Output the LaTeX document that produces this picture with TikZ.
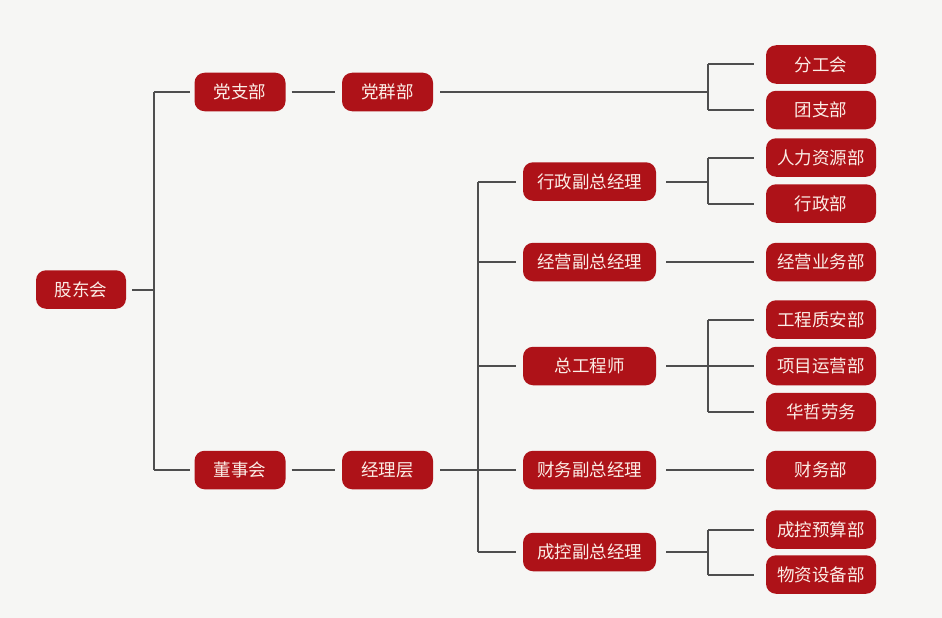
\documentclass[tikz,border=0pt]{standalone}
\usepackage{fontspec}
\setmainfont{Noto Sans CJK SC}
\definecolor{bg}{HTML}{F6F6F4}
\definecolor{boxred}{HTML}{AE1218}
\definecolor{boxtext}{HTML}{FBEDE6}
\definecolor{linegray}{HTML}{4E4E4E}
\tikzset{
  box/.style={draw=none, fill=boxred, rounded corners=10pt, text=boxtext, inner sep=0pt,
    minimum height=38.5pt, font=\fontsize{17.5}{19}\selectfont},
  lvA/.style={box, minimum width=91pt},
  lvB/.style={box, minimum width=133pt},
  lvC/.style={box, minimum width=110pt},
  conn/.style={draw=linegray, line width=2pt}
}
\begin{document}
\begin{tikzpicture}[x=1pt,y=-1pt]
\fill[bg] (0,0) rectangle (942,618);
\useasboundingbox (0,0) rectangle (942,618);

% nodes
\node[box, minimum width=90pt] (gd) at (81,289.5) {股东会};
\node[lvA] (dzb) at (240,92) {党支部};
\node[lvA] (dsh) at (240,470) {董事会};
\node[lvA] (dqb) at (387.5,92) {党群部};
\node[lvA] (jlc) at (387.5,470) {经理层};

\node[lvB] (v1) at (589.5,181.5) {行政副总经理};
\node[lvB] (v2) at (589.5,262) {经营副总经理};
\node[lvB] (v3) at (589.5,366) {总工程师};
\node[lvB] (v4) at (589.5,470) {财务副总经理};
\node[lvB] (v5) at (589.5,552) {成控副总经理};

\node[lvC] (r1) at (821,64.5) {分工会};
\node[lvC] (r2) at (821,110) {团支部};
\node[lvC] (r3) at (821,157.5) {人力资源部};
\node[lvC] (r4) at (821,203.5) {行政部};
\node[lvC] (r5) at (821,262) {经营业务部};
\node[lvC] (r6) at (821,319.5) {工程质安部};
\node[lvC] (r7) at (821,366) {项目运营部};
\node[lvC] (r8) at (821,412) {华哲劳务};
\node[lvC] (r9) at (821,470) {财务部};
\node[lvC] (r10) at (821,529.5) {成控预算部};
\node[lvC] (r11) at (821,574.5) {物资设备部};

% junctions
\coordinate (j1) at (154,289.5);
\coordinate (j2) at (478,470);
\coordinate (jq) at (708,92);
\coordinate (jv1) at (708,181.5);
\coordinate (jv3) at (708,366);
\coordinate (jv5) at (708,552);

% connectors
\draw[conn] ([xshift=6pt]gd.east) -- (j1);
\draw[conn] (j1 |- dzb.west) -- (j1 |- dsh.west);
\draw[conn] (j1 |- dzb.west) -- ([xshift=-4pt]dzb.west);
\draw[conn] (j1 |- dsh.west) -- ([xshift=-4pt]dsh.west);
\draw[conn] ([xshift=6pt]dzb.east) -- ([xshift=-7pt]dqb.west);
\draw[conn] ([xshift=6pt]dsh.east) -- ([xshift=-7pt]jlc.west);

\draw[conn] ([xshift=7pt]dqb.east) -- (jq);
\draw[conn] (jq |- r1.west) -- (jq |- r2.west);
\draw[conn] (jq |- r1.west) -- ([xshift=-12pt]r1.west);
\draw[conn] (jq |- r2.west) -- ([xshift=-12pt]r2.west);

\draw[conn] ([xshift=7pt]jlc.east) -- ([xshift=-7pt]v4.west);
\draw[conn] (j2 |- v1.west) -- (j2 |- v5.west);
\draw[conn] (j2 |- v1.west) -- ([xshift=-7pt]v1.west);
\draw[conn] (j2 |- v2.west) -- ([xshift=-7pt]v2.west);
\draw[conn] (j2 |- v3.west) -- ([xshift=-7pt]v3.west);
\draw[conn] (j2 |- v5.west) -- ([xshift=-7pt]v5.west);

\draw[conn] ([xshift=10pt]v1.east) -- (jv1);
\draw[conn] (jv1 |- r3.west) -- (jv1 |- r4.west);
\draw[conn] (jv1 |- r3.west) -- ([xshift=-12pt]r3.west);
\draw[conn] (jv1 |- r4.west) -- ([xshift=-12pt]r4.west);

\draw[conn] ([xshift=10pt]v2.east) -- ([xshift=-12pt]r5.west);

\draw[conn] ([xshift=10pt]v3.east) -- ([xshift=-12pt]r7.west);
\draw[conn] (jv3 |- r6.west) -- (jv3 |- r8.west);
\draw[conn] (jv3 |- r6.west) -- ([xshift=-12pt]r6.west);
\draw[conn] (jv3 |- r8.west) -- ([xshift=-12pt]r8.west);

\draw[conn] ([xshift=10pt]v4.east) -- ([xshift=-12pt]r9.west);

\draw[conn] ([xshift=10pt]v5.east) -- (jv5);
\draw[conn] (jv5 |- r10.west) -- (jv5 |- r11.west);
\draw[conn] (jv5 |- r10.west) -- ([xshift=-12pt]r10.west);
\draw[conn] (jv5 |- r11.west) -- ([xshift=-12pt]r11.west);
\end{tikzpicture}
\end{document}
